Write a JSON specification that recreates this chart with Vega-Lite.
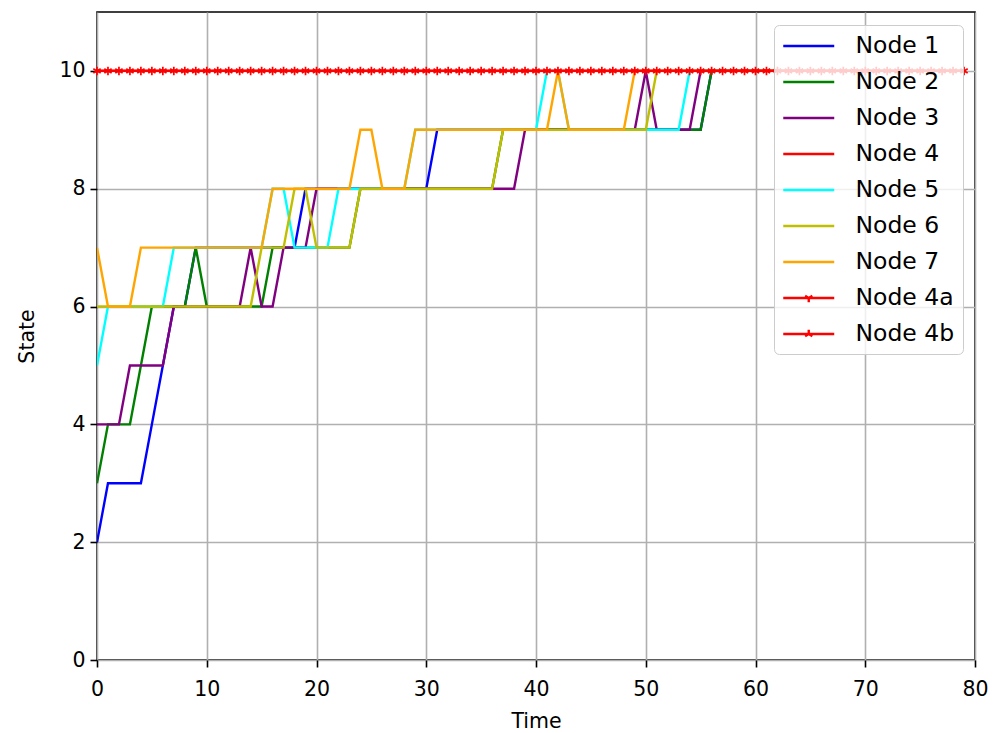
{
  "$schema": "https://vega.github.io/schema/vega-lite/v6.json",
  "width": 878,
  "height": 648,
  "autosize": {"type": "none"},
  "padding": {"left": 97, "top": 12, "right": 24, "bottom": 73},
  "background": "white",
  "config": {
    "font": "DejaVu Sans",
    "view": {"stroke": "black", "strokeWidth": 1.6},
    "axis": {
      "labelFont": "DejaVu Sans",
      "titleFont": "DejaVu Sans",
      "labelFontSize": 20.5,
      "titleFontSize": 20.5,
      "titleFontWeight": "normal",
      "labelColor": "black",
      "titleColor": "black",
      "tickColor": "black",
      "tickSize": 7,
      "tickWidth": 1.6,
      "gridColor": "#b0b0b0",
      "gridWidth": 1.6,
      "domain": false,
      "labelPadding": 5,
      "labelFlush": false
    }
  },
  "data": {
    "values": [
      {"t":0,"Node 1":2,"Node 2":3,"Node 3":4,"Node 4":10,"Node 5":5,"Node 6":6,"Node 7":7,"Node 4a":10,"Node 4b":10},
      {"t":1,"Node 1":3,"Node 2":4,"Node 3":4,"Node 4":10,"Node 5":6,"Node 6":6,"Node 7":6,"Node 4a":10,"Node 4b":10},
      {"t":2,"Node 1":3,"Node 2":4,"Node 3":4,"Node 4":10,"Node 5":6,"Node 6":6,"Node 7":6,"Node 4a":10,"Node 4b":10},
      {"t":3,"Node 1":3,"Node 2":4,"Node 3":5,"Node 4":10,"Node 5":6,"Node 6":6,"Node 7":6,"Node 4a":10,"Node 4b":10},
      {"t":4,"Node 1":3,"Node 2":5,"Node 3":5,"Node 4":10,"Node 5":6,"Node 6":6,"Node 7":7,"Node 4a":10,"Node 4b":10},
      {"t":5,"Node 1":4,"Node 2":6,"Node 3":5,"Node 4":10,"Node 5":6,"Node 6":6,"Node 7":7,"Node 4a":10,"Node 4b":10},
      {"t":6,"Node 1":5,"Node 2":6,"Node 3":5,"Node 4":10,"Node 5":6,"Node 6":6,"Node 7":7,"Node 4a":10,"Node 4b":10},
      {"t":7,"Node 1":6,"Node 2":6,"Node 3":6,"Node 4":10,"Node 5":7,"Node 6":6,"Node 7":7,"Node 4a":10,"Node 4b":10},
      {"t":8,"Node 1":6,"Node 2":6,"Node 3":6,"Node 4":10,"Node 5":7,"Node 6":6,"Node 7":7,"Node 4a":10,"Node 4b":10},
      {"t":9,"Node 1":7,"Node 2":7,"Node 3":6,"Node 4":10,"Node 5":7,"Node 6":6,"Node 7":7,"Node 4a":10,"Node 4b":10},
      {"t":10,"Node 1":7,"Node 2":6,"Node 3":6,"Node 4":10,"Node 5":7,"Node 6":6,"Node 7":7,"Node 4a":10,"Node 4b":10},
      {"t":11,"Node 1":7,"Node 2":6,"Node 3":6,"Node 4":10,"Node 5":7,"Node 6":6,"Node 7":7,"Node 4a":10,"Node 4b":10},
      {"t":12,"Node 1":7,"Node 2":6,"Node 3":6,"Node 4":10,"Node 5":7,"Node 6":6,"Node 7":7,"Node 4a":10,"Node 4b":10},
      {"t":13,"Node 1":7,"Node 2":6,"Node 3":6,"Node 4":10,"Node 5":7,"Node 6":6,"Node 7":7,"Node 4a":10,"Node 4b":10},
      {"t":14,"Node 1":7,"Node 2":6,"Node 3":7,"Node 4":10,"Node 5":7,"Node 6":6,"Node 7":7,"Node 4a":10,"Node 4b":10},
      {"t":15,"Node 1":7,"Node 2":6,"Node 3":6,"Node 4":10,"Node 5":7,"Node 6":7,"Node 7":7,"Node 4a":10,"Node 4b":10},
      {"t":16,"Node 1":7,"Node 2":7,"Node 3":6,"Node 4":10,"Node 5":8,"Node 6":7,"Node 7":8,"Node 4a":10,"Node 4b":10},
      {"t":17,"Node 1":7,"Node 2":7,"Node 3":7,"Node 4":10,"Node 5":8,"Node 6":7,"Node 7":8,"Node 4a":10,"Node 4b":10},
      {"t":18,"Node 1":7,"Node 2":7,"Node 3":7,"Node 4":10,"Node 5":7,"Node 6":8,"Node 7":8,"Node 4a":10,"Node 4b":10},
      {"t":19,"Node 1":8,"Node 2":7,"Node 3":7,"Node 4":10,"Node 5":7,"Node 6":8,"Node 7":8,"Node 4a":10,"Node 4b":10},
      {"t":20,"Node 1":8,"Node 2":7,"Node 3":8,"Node 4":10,"Node 5":7,"Node 6":7,"Node 7":8,"Node 4a":10,"Node 4b":10},
      {"t":21,"Node 1":8,"Node 2":7,"Node 3":8,"Node 4":10,"Node 5":7,"Node 6":7,"Node 7":8,"Node 4a":10,"Node 4b":10},
      {"t":22,"Node 1":8,"Node 2":7,"Node 3":8,"Node 4":10,"Node 5":8,"Node 6":7,"Node 7":8,"Node 4a":10,"Node 4b":10},
      {"t":23,"Node 1":8,"Node 2":7,"Node 3":8,"Node 4":10,"Node 5":8,"Node 6":7,"Node 7":8,"Node 4a":10,"Node 4b":10},
      {"t":24,"Node 1":8,"Node 2":8,"Node 3":8,"Node 4":10,"Node 5":8,"Node 6":8,"Node 7":9,"Node 4a":10,"Node 4b":10},
      {"t":25,"Node 1":8,"Node 2":8,"Node 3":8,"Node 4":10,"Node 5":8,"Node 6":8,"Node 7":9,"Node 4a":10,"Node 4b":10},
      {"t":26,"Node 1":8,"Node 2":8,"Node 3":8,"Node 4":10,"Node 5":8,"Node 6":8,"Node 7":8,"Node 4a":10,"Node 4b":10},
      {"t":27,"Node 1":8,"Node 2":8,"Node 3":8,"Node 4":10,"Node 5":8,"Node 6":8,"Node 7":8,"Node 4a":10,"Node 4b":10},
      {"t":28,"Node 1":8,"Node 2":8,"Node 3":8,"Node 4":10,"Node 5":8,"Node 6":8,"Node 7":8,"Node 4a":10,"Node 4b":10},
      {"t":29,"Node 1":8,"Node 2":8,"Node 3":8,"Node 4":10,"Node 5":9,"Node 6":8,"Node 7":9,"Node 4a":10,"Node 4b":10},
      {"t":30,"Node 1":8,"Node 2":8,"Node 3":8,"Node 4":10,"Node 5":9,"Node 6":8,"Node 7":9,"Node 4a":10,"Node 4b":10},
      {"t":31,"Node 1":9,"Node 2":8,"Node 3":8,"Node 4":10,"Node 5":9,"Node 6":8,"Node 7":9,"Node 4a":10,"Node 4b":10},
      {"t":32,"Node 1":9,"Node 2":8,"Node 3":8,"Node 4":10,"Node 5":9,"Node 6":8,"Node 7":9,"Node 4a":10,"Node 4b":10},
      {"t":33,"Node 1":9,"Node 2":8,"Node 3":8,"Node 4":10,"Node 5":9,"Node 6":8,"Node 7":9,"Node 4a":10,"Node 4b":10},
      {"t":34,"Node 1":9,"Node 2":8,"Node 3":8,"Node 4":10,"Node 5":9,"Node 6":8,"Node 7":9,"Node 4a":10,"Node 4b":10},
      {"t":35,"Node 1":9,"Node 2":8,"Node 3":8,"Node 4":10,"Node 5":9,"Node 6":8,"Node 7":9,"Node 4a":10,"Node 4b":10},
      {"t":36,"Node 1":9,"Node 2":8,"Node 3":8,"Node 4":10,"Node 5":9,"Node 6":8,"Node 7":9,"Node 4a":10,"Node 4b":10},
      {"t":37,"Node 1":9,"Node 2":9,"Node 3":8,"Node 4":10,"Node 5":9,"Node 6":9,"Node 7":9,"Node 4a":10,"Node 4b":10},
      {"t":38,"Node 1":9,"Node 2":9,"Node 3":8,"Node 4":10,"Node 5":9,"Node 6":9,"Node 7":9,"Node 4a":10,"Node 4b":10},
      {"t":39,"Node 1":9,"Node 2":9,"Node 3":9,"Node 4":10,"Node 5":9,"Node 6":9,"Node 7":9,"Node 4a":10,"Node 4b":10},
      {"t":40,"Node 1":9,"Node 2":9,"Node 3":9,"Node 4":10,"Node 5":9,"Node 6":9,"Node 7":9,"Node 4a":10,"Node 4b":10},
      {"t":41,"Node 1":9,"Node 2":9,"Node 3":9,"Node 4":10,"Node 5":10,"Node 6":9,"Node 7":9,"Node 4a":10,"Node 4b":10},
      {"t":42,"Node 1":9,"Node 2":9,"Node 3":9,"Node 4":10,"Node 5":10,"Node 6":9,"Node 7":10,"Node 4a":10,"Node 4b":10},
      {"t":43,"Node 1":9,"Node 2":9,"Node 3":9,"Node 4":10,"Node 5":9,"Node 6":9,"Node 7":9,"Node 4a":10,"Node 4b":10},
      {"t":44,"Node 1":9,"Node 2":9,"Node 3":9,"Node 4":10,"Node 5":9,"Node 6":9,"Node 7":9,"Node 4a":10,"Node 4b":10},
      {"t":45,"Node 1":9,"Node 2":9,"Node 3":9,"Node 4":10,"Node 5":9,"Node 6":9,"Node 7":9,"Node 4a":10,"Node 4b":10},
      {"t":46,"Node 1":9,"Node 2":9,"Node 3":9,"Node 4":10,"Node 5":9,"Node 6":9,"Node 7":9,"Node 4a":10,"Node 4b":10},
      {"t":47,"Node 1":9,"Node 2":9,"Node 3":9,"Node 4":10,"Node 5":9,"Node 6":9,"Node 7":9,"Node 4a":10,"Node 4b":10},
      {"t":48,"Node 1":9,"Node 2":9,"Node 3":9,"Node 4":10,"Node 5":9,"Node 6":9,"Node 7":9,"Node 4a":10,"Node 4b":10},
      {"t":49,"Node 1":9,"Node 2":9,"Node 3":9,"Node 4":10,"Node 5":9,"Node 6":9,"Node 7":10,"Node 4a":10,"Node 4b":10},
      {"t":50,"Node 1":9,"Node 2":9,"Node 3":10,"Node 4":10,"Node 5":9,"Node 6":9,"Node 7":10,"Node 4a":10,"Node 4b":10},
      {"t":51,"Node 1":9,"Node 2":9,"Node 3":9,"Node 4":10,"Node 5":9,"Node 6":10,"Node 7":10,"Node 4a":10,"Node 4b":10},
      {"t":52,"Node 1":9,"Node 2":9,"Node 3":9,"Node 4":10,"Node 5":9,"Node 6":10,"Node 7":10,"Node 4a":10,"Node 4b":10},
      {"t":53,"Node 1":9,"Node 2":9,"Node 3":9,"Node 4":10,"Node 5":9,"Node 6":10,"Node 7":10,"Node 4a":10,"Node 4b":10},
      {"t":54,"Node 1":9,"Node 2":9,"Node 3":9,"Node 4":10,"Node 5":10,"Node 6":10,"Node 7":10,"Node 4a":10,"Node 4b":10},
      {"t":55,"Node 1":9,"Node 2":9,"Node 3":10,"Node 4":10,"Node 5":10,"Node 6":10,"Node 7":10,"Node 4a":10,"Node 4b":10},
      {"t":56,"Node 1":10,"Node 2":10,"Node 3":10,"Node 4":10,"Node 5":10,"Node 6":10,"Node 7":10,"Node 4a":10,"Node 4b":10},
      {"t":57,"Node 1":10,"Node 2":10,"Node 3":10,"Node 4":10,"Node 5":10,"Node 6":10,"Node 7":10,"Node 4a":10,"Node 4b":10},
      {"t":58,"Node 1":10,"Node 2":10,"Node 3":10,"Node 4":10,"Node 5":10,"Node 6":10,"Node 7":10,"Node 4a":10,"Node 4b":10},
      {"t":59,"Node 1":10,"Node 2":10,"Node 3":10,"Node 4":10,"Node 5":10,"Node 6":10,"Node 7":10,"Node 4a":10,"Node 4b":10},
      {"t":60,"Node 1":10,"Node 2":10,"Node 3":10,"Node 4":10,"Node 5":10,"Node 6":10,"Node 7":10,"Node 4a":10,"Node 4b":10},
      {"t":61,"Node 1":10,"Node 2":10,"Node 3":10,"Node 4":10,"Node 5":10,"Node 6":10,"Node 7":10,"Node 4a":10,"Node 4b":10},
      {"t":62,"Node 1":10,"Node 2":10,"Node 3":10,"Node 4":10,"Node 5":10,"Node 6":10,"Node 7":10,"Node 4a":10,"Node 4b":10},
      {"t":63,"Node 1":10,"Node 2":10,"Node 3":10,"Node 4":10,"Node 5":10,"Node 6":10,"Node 7":10,"Node 4a":10,"Node 4b":10},
      {"t":64,"Node 1":10,"Node 2":10,"Node 3":10,"Node 4":10,"Node 5":10,"Node 6":10,"Node 7":10,"Node 4a":10,"Node 4b":10},
      {"t":65,"Node 1":10,"Node 2":10,"Node 3":10,"Node 4":10,"Node 5":10,"Node 6":10,"Node 7":10,"Node 4a":10,"Node 4b":10},
      {"t":66,"Node 1":10,"Node 2":10,"Node 3":10,"Node 4":10,"Node 5":10,"Node 6":10,"Node 7":10,"Node 4a":10,"Node 4b":10},
      {"t":67,"Node 1":10,"Node 2":10,"Node 3":10,"Node 4":10,"Node 5":10,"Node 6":10,"Node 7":10,"Node 4a":10,"Node 4b":10},
      {"t":68,"Node 1":10,"Node 2":10,"Node 3":10,"Node 4":10,"Node 5":10,"Node 6":10,"Node 7":10,"Node 4a":10,"Node 4b":10},
      {"t":69,"Node 1":10,"Node 2":10,"Node 3":10,"Node 4":10,"Node 5":10,"Node 6":10,"Node 7":10,"Node 4a":10,"Node 4b":10},
      {"t":70,"Node 1":10,"Node 2":10,"Node 3":10,"Node 4":10,"Node 5":10,"Node 6":10,"Node 7":10,"Node 4a":10,"Node 4b":10},
      {"t":71,"Node 1":10,"Node 2":10,"Node 3":10,"Node 4":10,"Node 5":10,"Node 6":10,"Node 7":10,"Node 4a":10,"Node 4b":10},
      {"t":72,"Node 1":10,"Node 2":10,"Node 3":10,"Node 4":10,"Node 5":10,"Node 6":10,"Node 7":10,"Node 4a":10,"Node 4b":10},
      {"t":73,"Node 1":10,"Node 2":10,"Node 3":10,"Node 4":10,"Node 5":10,"Node 6":10,"Node 7":10,"Node 4a":10,"Node 4b":10},
      {"t":74,"Node 1":10,"Node 2":10,"Node 3":10,"Node 4":10,"Node 5":10,"Node 6":10,"Node 7":10,"Node 4a":10,"Node 4b":10},
      {"t":75,"Node 1":10,"Node 2":10,"Node 3":10,"Node 4":10,"Node 5":10,"Node 6":10,"Node 7":10,"Node 4a":10,"Node 4b":10},
      {"t":76,"Node 1":10,"Node 2":10,"Node 3":10,"Node 4":10,"Node 5":10,"Node 6":10,"Node 7":10,"Node 4a":10,"Node 4b":10},
      {"t":77,"Node 1":10,"Node 2":10,"Node 3":10,"Node 4":10,"Node 5":10,"Node 6":10,"Node 7":10,"Node 4a":10,"Node 4b":10},
      {"t":78,"Node 1":10,"Node 2":10,"Node 3":10,"Node 4":10,"Node 5":10,"Node 6":10,"Node 7":10,"Node 4a":10,"Node 4b":10},
      {"t":79,"Node 1":10,"Node 2":10,"Node 3":10,"Node 4":10,"Node 5":10,"Node 6":10,"Node 7":10,"Node 4a":10,"Node 4b":10}
    ]
  },
  "transform": [
    {"fold": ["Node 1","Node 2","Node 3","Node 4","Node 5","Node 6","Node 7","Node 4a","Node 4b"], "as": ["node","v"]}
  ],
  "encoding": {
    "x": {"field": "t", "type": "quantitative", "scale": {"domain": [0, 80], "nice": false, "zero": false},
          "axis": {"title": "Time", "values": [0,10,20,30,40,50,60,70,80], "labelPadding": 12, "titlePadding": 12}},
    "y": {"field": "v", "type": "quantitative", "scale": {"domain": [0, 11], "nice": false},
          "axis": {"title": "State", "values": [0,2,4,6,8,10], "titlePadding": 21}}
  },
  "layer": [
    {
      "transform": [{"filter": "datum.node !== 'Node 4a' && datum.node !== 'Node 4b'"}],
      "mark": {"type": "line", "strokeWidth": 2.4, "clip": true},
      "encoding": {
        "color": {
          "field": "node", "type": "nominal", "title": null,
          "scale": {
            "domain": ["Node 1","Node 2","Node 3","Node 4","Node 5","Node 6","Node 7","Node 4a","Node 4b"],
            "range": ["#0000ff","#008000","#800080","#ff0000","#00ffff","#bfbf00","#ffa500","#ff0000","#ff0000"]
          },
          "legend": {
            "title": null,
            "orient": "top-right",
            "offset": 12.5,
            "padding": 8,
            "fillColor": "rgba(255,255,255,0.8)",
            "strokeColor": "#cccccc",
            "cornerRadius": 5,
            "labelFont": "DejaVu Sans",
            "labelFontSize": 23.5,
            "labelColor": "black",
            "labelLimit": 400,
            "symbolType": "M-1,0L3.34,0",
            "symbolSize": 552,
            "symbolStrokeWidth": 2.4,
            "rowPadding": 11,
            "labelOffset": 47.5
          }
        }
      }
    },
    {
      "transform": [{"filter": "datum.node === 'Node 4a' || datum.node === 'Node 4b'"}],
      "mark": {"type": "line", "strokeWidth": 2.4, "clip": true},
      "encoding": {"color": {"field": "node", "type": "nominal", "title": null}}
    },
    {
      "transform": [{"filter": "datum.node === 'Node 4a'"}],
      "mark": {"type": "point", "shape": "M0,0L0,1M0,0L-0.866,-0.5M0,0L0.866,-0.5", "size": 72, "filled": false, "strokeWidth": 1.7, "opacity": 1, "color": "#ff0000"},
      "encoding": {}
    },
    {
      "transform": [{"filter": "datum.node === 'Node 4b'"}],
      "mark": {"type": "point", "shape": "M0,0L0,-1M0,0L-0.866,0.5M0,0L0.866,0.5", "size": 72, "filled": false, "strokeWidth": 1.7, "opacity": 1, "color": "#ff0000"},
      "encoding": {}
    },
    {
      "transform": [{"filter": "false"}],
      "mark": {"type": "point", "filled": false, "strokeWidth": 2.4, "opacity": 1},
      "encoding": {
        "color": {"field": "node", "type": "nominal", "title": null},
        "shape": {
          "field": "node", "type": "nominal", "title": null,
          "scale": {
            "domain": ["Node 1","Node 2","Node 3","Node 4","Node 5","Node 6","Node 7","Node 4a","Node 4b"],
            "range": ["M-1,0L3.34,0","M-1,0L3.34,0","M-1,0L3.34,0","M-1,0L3.34,0","M-1,0L3.34,0","M-1,0L3.34,0","M-1,0L3.34,0",
                      "M-1,0L3.34,0M1.17,0L1.17,0.36M1.17,0L0.86,-0.18M1.17,0L1.48,-0.18",
                      "M-1,0L3.34,0M1.17,0L1.17,-0.36M1.17,0L0.86,0.18M1.17,0L1.48,0.18"]
          }
        }
      }
    }
  ]
}
